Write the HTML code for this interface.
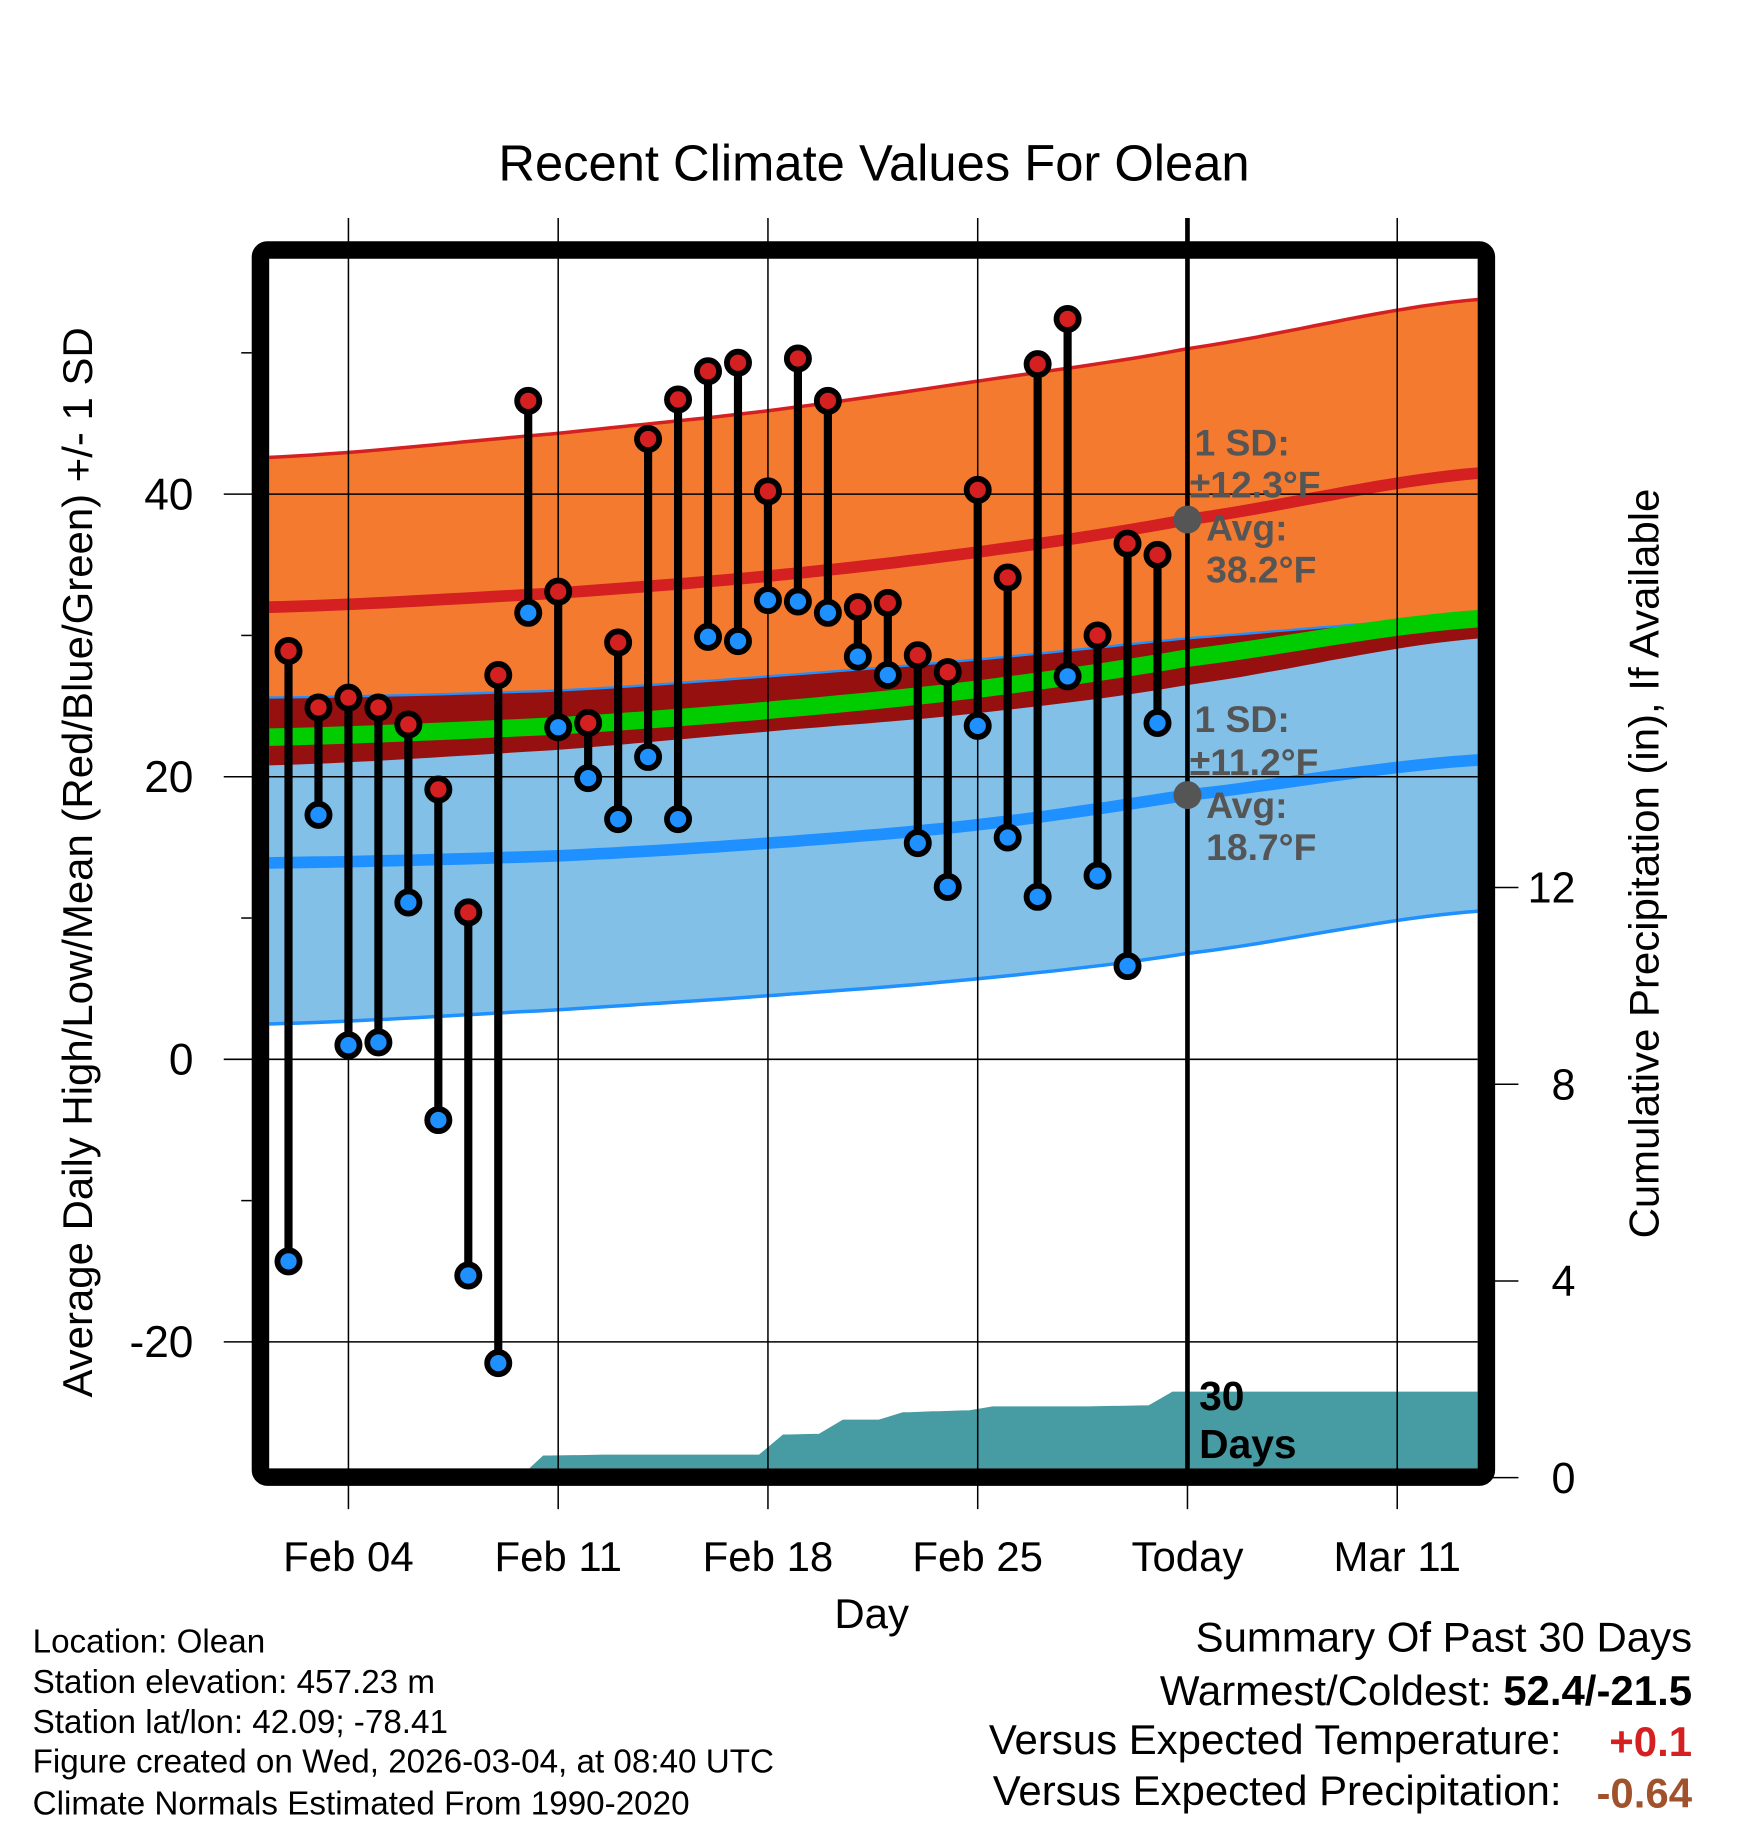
<!DOCTYPE html>
<html><head><meta charset="utf-8">
<style>
html,body{margin:0;padding:0;background:#fff;}
svg{display:block;font-family:"Liberation Sans",Arial,sans-serif;}
</style></head>
<body>
<svg id="chart" width="1748" height="1828" viewBox="0 0 1500 1568.6" xmlns="http://www.w3.org/2000/svg">
<defs><clipPath id="plotclip"><rect x="231" y="222" width="1037" height="1038"/></clipPath></defs>
<rect x="0" y="0" width="1500" height="1569" fill="#fff"/>
<text x="750" y="155" font-size="43.5" text-anchor="middle">Recent Climate Values For Olean</text>
<g id="bands" clip-path="url(#plotclip)"></g>
<g id="grid"></g>
<g id="marks"></g>
<rect x="223.5" y="214.5" width="1052" height="1053" rx="6" fill="none" stroke="#000" stroke-width="15"/>
<g id="axes"></g>
<text transform="translate(79,740) rotate(-90)" font-size="36" text-anchor="middle">Average Daily High/Low/Mean (Red/Blue/Green) +/- 1 SD</text>
<text transform="translate(1423,741) rotate(-90)" font-size="36" text-anchor="middle">Cumulative Precipitation (in), If Available</text>
<text x="748" y="1397" font-size="36" text-anchor="middle">Day</text>
<g font-size="32" font-weight="bold" fill="#555">
<text x="1025" y="391">1 SD:</text><text x="1021" y="427">±12.3°F</text>
<text x="1035" y="464">Avg:</text><text x="1035" y="500">38.2°F</text></g>
<g font-size="32" font-weight="bold" fill="#555">
<text x="1025" y="628">1 SD:</text><text x="1021" y="665">±11.2°F</text>
<text x="1035" y="702">Avg:</text><text x="1035" y="738">18.7°F</text></g>
<g font-size="35" font-weight="bold"><text x="1029" y="1210">30</text><text x="1029" y="1251">Days</text></g>
<g font-size="28.5">
<text x="28" y="1418">Location: Olean</text>
<text x="28" y="1453">Station elevation: 457.23 m</text>
<text x="28" y="1487">Station lat/lon: 42.09; -78.41</text>
<text x="28" y="1521">Figure created on Wed, 2026-03-04, at 08:40 UTC</text>
<text x="28" y="1557">Climate Normals Estimated From 1990-2020</text></g>
<g font-size="36">
<text x="1452" y="1417" text-anchor="end">Summary Of Past 30 Days</text>
<text x="1452" y="1463" text-anchor="end">Warmest/Coldest: <tspan font-weight="bold">52.4/-21.5</tspan></text>
<text x="1340" y="1505" text-anchor="end">Versus Expected Temperature:</text>
<text x="1452" y="1507" text-anchor="end" font-weight="bold" fill="#d42020">+0.1</text>
<text x="1340" y="1549" text-anchor="end">Versus Expected Precipitation:</text>
<text x="1452" y="1551" text-anchor="end" font-weight="bold" fill="#a0522d">-0.64</text></g>
</svg>
<script>
const days=[-2,-1,0,1,2,3,4,5,6,7,8,9,10,11,12,13,14,15,16,17,18,19,20,21,22,23,24,25,26,27];
const highs=[28.9,24.9,25.6,24.9,23.7,19.1,10.4,27.2,46.6,33.1,23.8,29.5,43.9,46.7,48.7,49.3,40.2,49.6,46.6,32.0,32.3,28.6,27.4,40.3,34.1,49.2,52.4,30.0,36.5,35.7];
const lows=[-14.3,17.3,1.0,1.2,11.1,-4.3,-15.3,-21.5,31.6,23.5,19.9,17.0,21.4,17.0,29.9,29.6,32.5,32.4,31.6,28.5,27.2,15.3,12.2,23.6,15.7,11.5,27.1,13.0,6.6,23.8];
const precip=[0,0,0,0,0,0,0,0,0.45,0.46,0.47,0.47,0.47,0.47,0.47,0.47,0.88,0.89,1.18,1.18,1.33,1.35,1.37,1.45,1.45,1.45,1.45,1.46,1.47,1.75];
const normDays=[-2.7,7,14,21,28,37.8];
const hiUpper=[42.6,44.3,45.9,48.0,50.3,53.8];
const hiMean=[32.0,33.0,34.2,35.9,38.2,41.5];
const loUpper=[25.6,26.1,27.1,28.3,29.8,31.3];
const avgMean=[22.8,23.6,24.7,26.2,28.4,31.2];
const hiLower=[20.8,21.9,23.2,24.5,26.5,29.8];
const loMean=[13.9,14.4,15.3,16.6,18.7,21.2];
const loLower=[2.5,3.5,4.5,5.7,7.5,10.5];
const xTickDays=[0,7,14,21,28,35];
const xTickLabels=["Feb 04","Feb 11","Feb 18","Feb 25","Today","Mar 11"];
const yTicks=[40,20,0,-20];
const yMinor=[50,30,10,-10];
const pTicks=[0,4,8,12];

const X=d=>299+25.714*d;
const Y=v=>909-12.125*v;
const P=p=>1268-42.2*p;
const NS="http://www.w3.org/2000/svg";
function mk(tag,parent,attrs){const el=document.createElementNS(NS,tag);for(const k in attrs)el.setAttribute(k,attrs[k]);parent.appendChild(el);return el;}
function interp(arr,d){
  let i=0;while(i<normDays.length-2&&d>normDays[i+1])i++;
  const t=(d-normDays[i])/(normDays[i+1]-normDays[i]);
  const p0=arr[Math.max(i-1,0)],p1=arr[i],p2=arr[i+1],p3=arr[Math.min(i+2,arr.length-1)];
  return 0.5*((2*p1)+(-p0+p2)*t+(2*p0-5*p1+4*p2-p3)*t*t+(-p0+3*p1-3*p2+p3)*t*t*t);
}
const samples=[];for(let d=-2.7;d<=37.8;d+=0.5)samples.push(d);samples.push(37.8);
function line(arr){return samples.map((d,i)=>(i?'L':'M')+X(d).toFixed(1)+','+Y(interp(arr,d)).toFixed(1)).join('');}
function band(a,b){return line(a)+samples.slice().reverse().map(d=>'L'+X(d).toFixed(1)+','+Y(interp(b,d)).toFixed(1)).join('')+'Z';}
const bands=document.getElementById('bands');
let e;
e=mk('path',bands,{d:band(hiUpper,loUpper),fill:'#f47a30'});


e=mk('path',bands,{d:band(loUpper,loLower),fill:'#82c0e8'});


e=mk('path',bands,{d:band(loUpper,hiLower),fill:'#961010'});


e=mk('path',bands,{d:line(hiUpper),fill:'none',stroke:'#d42020','stroke-width':3});


e=mk('path',bands,{d:line(loUpper),fill:'none',stroke:'#1e90ff','stroke-width':2});


e=mk('path',bands,{d:line(loLower),fill:'none',stroke:'#1e90ff','stroke-width':3});


e=mk('path',bands,{d:line(avgMean),fill:'none',stroke:'#00cc00','stroke-width':15});


e=mk('path',bands,{d:line(hiMean),fill:'none',stroke:'#d42020','stroke-width':10});


e=mk('path',bands,{d:line(loMean),fill:'none',stroke:'#1e90ff','stroke-width':10});


let pd='M'+X(days[0]-0.7)+','+P(0);
days.forEach((d,i)=>{pd+='L'+X(d-0.3).toFixed(1)+','+P(i?precip[i-1]:0).toFixed(1)+'L'+X(d+0.5).toFixed(1)+','+P(precip[i]).toFixed(1);});
pd+='L'+X(38)+','+P(precip[precip.length-1])+'L'+X(38)+','+P(0)+'Z';
e=mk('path',bands,{d:pd,fill:'#479ca3'});



const grid=document.getElementById('grid');
xTickDays.forEach(d=>{
  const g=mk('line',grid,{x1:X(d),x2:X(d),y1:187,y2:1295,stroke:'#000','stroke-width':1.3});
  
  
});
yTicks.forEach(v=>{
  const g=mk('line',grid,{x1:192,x2:1268,y1:Y(v),y2:Y(v),stroke:'#000','stroke-width':1.3});
  
  
});
yMinor.forEach(v=>{
  const g=mk('line',grid,{x1:207,x2:216,y1:Y(v),y2:Y(v),stroke:'#000','stroke-width':1.3});
  
  
});
pTicks.forEach(p=>{
  const g=mk('line',grid,{x1:1276,x2:1303,y1:P(p),y2:P(p),stroke:'#000','stroke-width':1.3});
  
  
});
e=mk('line',grid,{x1:X(28),x2:X(28),y1:187,y2:1262,stroke:'#000','stroke-width':4});



const marks=document.getElementById('marks');
days.forEach((d,i)=>{
  const s=mk('line',marks,{x1:X(d),x2:X(d),y1:Y(highs[i]),y2:Y(lows[i]),stroke:'#000','stroke-width':7});
  
  
  const h=mk('circle',marks,{cx:X(d),cy:Y(highs[i]),r:9.5,fill:'#d42020',stroke:'#000','stroke-width':5});
  
  
  const l=mk('circle',marks,{cx:X(d),cy:Y(lows[i]),r:9.5,fill:'#1e90ff',stroke:'#000','stroke-width':5});
  
  
});
e=mk('circle',marks,{cx:X(28),cy:Y(38.2),r:12,fill:'#555'});


e=mk('circle',marks,{cx:X(28),cy:Y(18.7),r:12,fill:'#555'});



const axes=document.getElementById('axes');
xTickDays.forEach((d,i)=>{
  const t=mk('text',axes,{x:X(d),y:1348,'font-size':36,'text-anchor':'middle'});
  t.textContent=xTickLabels[i];
  
  
});
yTicks.forEach(v=>{
  const t=mk('text',axes,{x:166,y:Y(v)+13,'font-size':38,'text-anchor':'end'});
  t.textContent=String(v);
  
  
});
pTicks.forEach(p=>{
  const t=mk('text',axes,{x:1352,y:P(p)+13,'font-size':37,'text-anchor':'end'});
  t.textContent=String(p);
  
  
});
</script>
</body></html>
